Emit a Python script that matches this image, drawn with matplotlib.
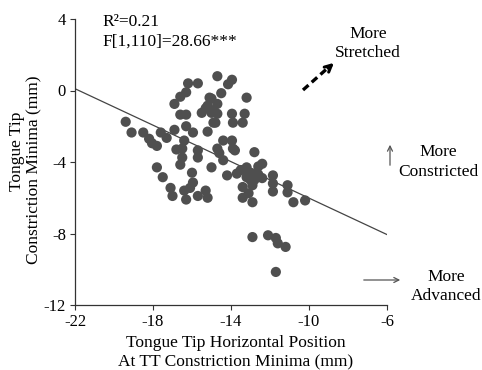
import matplotlib
matplotlib.use('Agg')
import matplotlib.pyplot as plt

plt.rcParams['font.family'] = ['Liberation Serif', 'DejaVu Serif']
plt.rcParams['axes.unicode_minus'] = False

# tongue tip horizontal position (mm) and constriction minima (mm)
tt_x = [-14.7, -13.95, -14.15, -16.2, -15.7, -16.3, -16.6, -16.9, -14.5, -13.2,
        -15.1, -15.2, -14.7, -15.0, -15.5, -14.7, -16.6, -16.3, -13.95, -13.3,
        -13.9, -14.9, -19.4, -19.1, -18.5, -18.2, -17.8, -17.6, -17.3, -16.9,
        -16.3, -15.95, -16.4, -16.5, -15.2, -16.8, -15.7, -15.7, -16.6, -14.7,
        -14.4, -13.95, -13.9, -15.0, -14.4, -17.8, -17.5, -16.0, -15.95, -16.1,
        -16.4, -15.3, -17.1, -17.0, -16.3, -15.7, -15.2, -14.2, -13.5, -13.2,
        -12.9, -13.4, -12.9, -13.4, -12.9, -12.8, -12.4, -13.2, -12.6, -13.0,
        -13.7, -13.1, -11.85, -11.85, -11.85, -11.1, -11.1, -10.8, -10.2, -12.9,
        -12.1, -11.7, -11.6, -11.2, -11.7, -18.05, -13.8, -14.6, -16.5, -15.3,
        -14.8, -13.4, -13.3, -12.8, -13.0, -12.6, -12.4, -15.0, -14.9]
tt_y = [0.8, 0.6, 0.35, 0.4, 0.4, -0.1, -0.35, -0.75, -0.15, -0.4,
        -0.4, -0.85, -0.75, -1.25, -1.25, -1.3, -1.35, -1.35, -1.3, -1.3,
        -1.8, -1.8, -1.75, -2.35, -2.35, -2.7, -3.1, -2.35, -2.65, -2.2,
        -2.0, -2.35, -2.8, -3.25, -2.3, -3.3, -3.35, -3.75, -4.15, -3.25,
        -2.8, -2.8, -3.25, -4.3, -3.9, -4.3, -4.85, -4.6, -5.15, -5.45,
        -5.6, -5.6, -5.45, -5.9, -6.1, -5.9, -6.0, -4.75, -4.45, -4.85,
        -4.65, -5.4, -5.3, -6.0, -6.25, -3.45, -4.1, -4.3, -4.7, -5.0,
        -4.65, -5.75, -4.75, -5.2, -5.65, -5.3, -5.7, -6.25, -6.15, -8.2,
        -8.1, -8.25, -8.55, -8.75, -10.15, -2.95, -3.35, -3.5, -3.75, -1.0,
        -1.8, -1.8, -4.45, -5.0, -4.6, -4.25, -4.9, -0.45, -1.1]

# fitted line
fit_x = [-22, -6]
fit_intercept = 0.1   # value at x = -22
fit_slope = -0.51

x_ticks = [-22, -18, -14, -10, -6]
y_ticks = [4, 0, -4, -8, -12]

W, H = 482, 370
fig = plt.figure(figsize=(W / 100, H / 100), dpi=100)
ax = fig.add_axes([75 / W, 1 - 305 / H, 312 / W, 286 / H])

ax.scatter(tt_x, tt_y, s=54, color='#4f4f4f', edgecolors='none', zorder=3)
fit_y = [fit_intercept + fit_slope * (v - fit_x[0]) for v in fit_x]
ax.plot(fit_x, fit_y, color='#444444', lw=0.9, zorder=2)

ax.set_xlim(-22, -6)
ax.set_ylim(-12, 4)
ax.set_xticks(x_ticks)
ax.set_yticks(y_ticks)
ax.tick_params(labelsize=12, length=3.5, width=0.8, color='#333333', pad=3)
for s in ['top', 'right']:
    ax.spines[s].set_visible(False)
for s in ['left', 'bottom']:
    ax.spines[s].set_color('#333333')
    ax.spines[s].set_linewidth(0.9)

fs = 12.5
ax.text(102 / W, 1 - 22 / H, 'R²=0.21', transform=fig.transFigure, fontsize=fs, va='center')
ax.text(102 / W, 1 - 42 / H, 'F[1,110]=28.66***', transform=fig.transFigure, fontsize=fs, va='center')

# axis titles
fig.text(236 / W, 1 - 343 / H, 'Tongue Tip Horizontal Position', fontsize=fs, ha='center', va='center')
fig.text(236 / W, 1 - 362 / H, 'At TT Constriction Minima (mm)', fontsize=fs, ha='center', va='center')
fig.text(17 / W, 1 - 151 / H, 'Tongue Tip', fontsize=fs, ha='center', va='center', rotation=90)
fig.text(34 / W, 1 - 170 / H, 'Constriction Minima (mm)', fontsize=fs, ha='center', va='center', rotation=90)

# direction hints
def fpos(px, py):
    return (px / W, 1 - py / H)

fig.text(*fpos(368, 34), 'More', fontsize=fs, ha='center', va='center')
fig.text(*fpos(368, 53), 'Stretched', fontsize=fs, ha='center', va='center')
fig.text(*fpos(438, 152), 'More', fontsize=fs, ha='center', va='center')
fig.text(*fpos(438, 172), 'Constricted', fontsize=fs, ha='center', va='center')
fig.text(*fpos(446, 277), 'More', fontsize=fs, ha='center', va='center')
fig.text(*fpos(446, 296), 'Advanced', fontsize=fs, ha='center', va='center')

fig.add_artist(matplotlib.lines.Line2D([303 / W, 330 / W], [1 - 90 / H, 1 - 66 / H],
                                       color='black', lw=2.4, ls=(0, (2.2, 1.3))))
ax.annotate('', xy=fpos(336, 61), xytext=fpos(326, 70), xycoords='figure fraction',
            arrowprops=dict(arrowstyle='->', color='black', lw=2.2, mutation_scale=12))
ax.annotate('', xy=fpos(390, 142), xytext=fpos(390, 168), xycoords='figure fraction',
            arrowprops=dict(arrowstyle='->', color='#555555', lw=0.9, mutation_scale=9))
ax.annotate('', xy=fpos(403, 280), xytext=fpos(361, 280), xycoords='figure fraction',
            arrowprops=dict(arrowstyle='->', color='#555555', lw=0.9, mutation_scale=9))

fig.savefig('out.png', dpi=100)
